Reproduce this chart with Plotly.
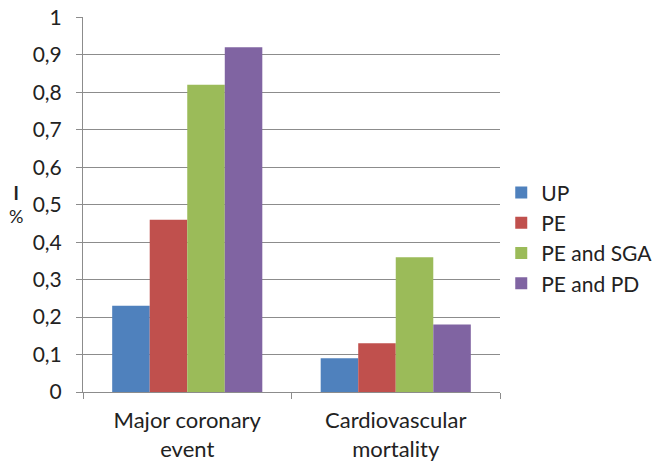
import plotly.graph_objects as go

categories = ["Major coronary<br>event", "Cardiovascular<br>mortality"]
series_names = ["UP", "PE", "PE and SGA", "PE and PD"]
series_values = [
    [0.23, 0.09],
    [0.46, 0.13],
    [0.82, 0.36],
    [0.92, 0.18],
]
colors = ["#4F81BD", "#C0504D", "#9BBB59", "#8064A2"]

font = "Lato, Open Sans, sans-serif"

fig = go.Figure()
for name, vals, col in zip(series_names, series_values, colors):
    fig.add_trace(go.Bar(x=categories, y=vals, name=name, marker_color=col,
                         marker_line_width=0, legendgroup=name))

# page body adds an 8px offset, so margins are trimmed by 8
fig.update_layout(
    width=661, height=466,
    margin=dict(l=75, r=169, t=9, b=82),
    plot_bgcolor="white", paper_bgcolor="white",
    barmode="group", bargap=0.28, bargroupgap=0,
    separators=", ",
    font=dict(family=font, size=21, color="#222222"),
    legend=dict(x=1.003, y=0.41, yanchor="middle", xanchor="left",
                font=dict(size=21), tracegroupgap=22, traceorder="normal",
                itemwidth=30),
    showlegend=True,
)
fig.update_yaxes(range=[0, 1.001], tickvals=[i / 10 for i in range(11)],
                 showgrid=True, gridcolor="#8c8c8c",
                 gridwidth=1, showline=True, linecolor="#8c8c8c",
                 ticks="outside", ticklen=6, tickcolor="#8c8c8c",
                 zeroline=False, ticklabelstandoff=10, automargin=False,
                 ticklabeloverflow="allow")
fig.update_xaxes(showline=True, linecolor="#8c8c8c", ticks="outside",
                 tickson="boundaries", ticklen=6, tickcolor="#8c8c8c",
                 showgrid=False, automargin=False, ticklabelstandoff=9,
                 tickfont=dict(size=22))
fig.add_annotation(text="<b>I</b><br>%", x=0, y=0.50, xref="paper", yref="paper",
                   xanchor="center", xshift=-67, showarrow=False,
                   font=dict(size=18))

fig.write_html("out.html")
